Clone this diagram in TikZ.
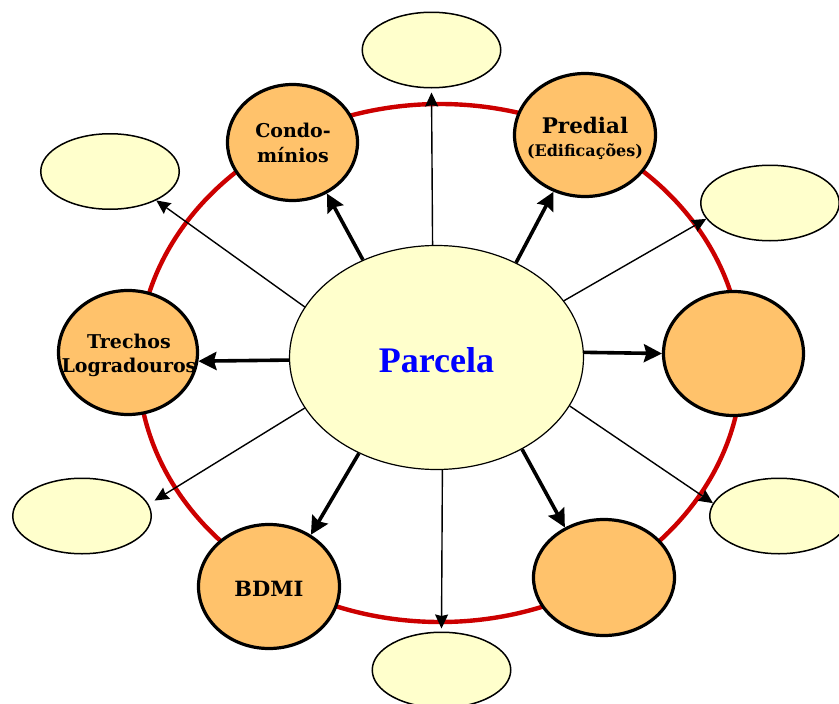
\documentclass[tikz,border=0pt]{standalone}
\usepackage{fontspec}
\setmainfont{DejaVu Serif}
\newfontfamily\parcelafont{Liberation Serif}
\usetikzlibrary{shapes.geometric,arrows.meta}
\definecolor{orangefill}{RGB}{255,194,107}
\definecolor{yellowfill}{RGB}{255,255,204}
\definecolor{ringred}{RGB}{204,0,0}
\definecolor{parcelablue}{RGB}{0,0,255}
\begin{document}
\begin{tikzpicture}[x=1pt,y=-1pt,
  orangebox/.style={ellipse, draw=black, line width=3.2pt, fill=orangefill, inner sep=0pt},
  yellowbox/.style={ellipse, draw=black, line width=1.5pt, fill=yellowfill, inner sep=0pt,
    minimum width=138.5pt, minimum height=75.5pt},
  lbl/.style={font=\bfseries\fontsize{19}{24.5}\selectfont, align=center, inner sep=0pt},
  bigarrow/.style={line width=3.6pt, -{Stealth[length=18pt,width=18pt,inset=2.5pt]}},
  smallarrow/.style={line width=1.4pt, -{Stealth[length=14pt,width=13pt,inset=1.5pt]}}]
\useasboundingbox (0,0) rectangle (839,704);
\clip (0,0) rectangle (839,704);
% red ring
\draw[ringred, line width=4.4pt] (440,363) ellipse [x radius=302, y radius=259];
% yellow satellites
\node[yellowbox] (ytop) at (431.5,50) {};
\node[yellowbox] (yul) at (110,171.5) {};
\node[yellowbox] (yur) at (770,203) {};
\node[yellowbox] (yll) at (82,516) {};
\node[yellowbox] (ylr) at (779,516) {};
\node[yellowbox] (ybot) at (441.5,670) {};
% orange circles
\node[orangebox, minimum width=130pt, minimum height=116pt] (condo) at (292.5,142.5) {};
\node[orangebox, minimum width=141pt, minimum height=123pt] (predial) at (585,135) {};
\node[orangebox, minimum width=140pt, minimum height=124pt] (rightc) at (733.5,353.5) {};
\node[orangebox, minimum width=141pt, minimum height=116pt] (lowright) at (604,577.5) {};
\node[orangebox, minimum width=141pt, minimum height=124pt] (bdmi) at (269,586.5) {};
\node[orangebox, minimum width=139pt, minimum height=124pt] (trechos) at (128,352.5) {};
% centre
\node[ellipse, draw=black, line width=1.2pt, fill=yellowfill, minimum width=294pt,
  minimum height=224pt, inner sep=0pt] (parcela) at (436.5,357.5) {};
\node[font=\parcelafont\bfseries\fontsize{36}{40}\selectfont, text=parcelablue,
  anchor=base, inner sep=0pt] (parcelatext) at (436.5,372) {Parcela};
% labels
\node[lbl] (condotext) at (293,143) {Condo-\\mínios};
\node[lbl, font=\bfseries\fontsize{21.5}{24}\selectfont, anchor=base] (predialtext) at (585,133) {Predial};
\node[lbl, font=\bfseries\fontsize{16}{18}\selectfont, anchor=base] (ediftext) at (585,156) {(Edificações)};
\node[lbl] (trechostext) at (129,355.5) {Trechos\\Logradouros};
\node[lbl, font=\bfseries\fontsize{21}{24}\selectfont, anchor=base] (bdmitext) at (269,596) {BDMI};
% thick arrows
\draw[bigarrow] (parcela.127) -- (condo.-56);
\draw[bigarrow] (parcela.50.6) -- (predial.241.5);
\draw[bigarrow] (parcela.2) -- (rightc.180);
\draw[bigarrow] (parcela.-47.5) -- (lowright.128.4);
\draw[bigarrow] (parcela.231.4) -- (bdmi.51.3);
\draw[bigarrow] (parcela.181.7) -- (trechos.-7.6);
% thin arrows
\draw[smallarrow, shorten >=4pt] (parcela.92) -- (ytop.south);
\draw[smallarrow] (parcela.159) -- (yul.-32.7);
\draw[smallarrow] (parcela.24) -- (yur.194.5);
\draw[smallarrow] (parcela.-20.6) -- (ylr.169.5);
\draw[smallarrow, shorten >=3pt] (parcela.-87) -- (ybot.north);
\draw[smallarrow, shorten >=7pt] (parcela.201) -- (yll.10);
\end{tikzpicture}
\end{document}
